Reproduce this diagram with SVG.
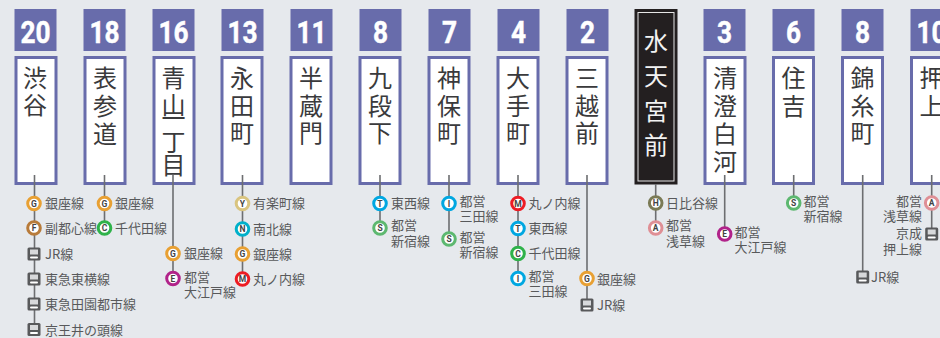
<svg xmlns="http://www.w3.org/2000/svg" width="940" height="338" viewBox="0 0 940 338">
<style>
.num{fill:#686cab}
.box{fill:#fff;stroke:#686cab;stroke-width:3}
.n{font:700 32px Roboto,"Liberation Sans",sans-serif;fill:#fff;stroke:#fff;stroke-width:.5;text-anchor:middle}
.st{font:400 24px "Noto Sans CJK JP",sans-serif;fill:#3a3a3c;text-anchor:middle}
.w{fill:#f2f2f2}
.l{font:400 13px "Noto Sans CJK JP",sans-serif;fill:#58595b}
.e{text-anchor:end}
.c{stroke:#6d6e71;stroke-width:1.6;fill:none}
circle{fill:#fff;stroke-width:3}
.b{font:700 8.5px Roboto,sans-serif;fill:#444;text-anchor:middle}
.G{stroke:#e8a033}.F{stroke:#b87b3a}.C{stroke:#2fb24a}.E{stroke:#b1238a}.Y{stroke:#d9c47f}.N{stroke:#00b0ca}.M{stroke:#ed1c24}.T{stroke:#00a7e1}.S{stroke:#5db870}.I{stroke:#00a7e1}.H{stroke:#7a7a55}.A{stroke:#df8f95}
</style>
<defs>
<g id="train"><rect x="-6.500" y="-6.500" width="13" height="13" rx="1.500" fill="#58595b"/><rect x="-4" y="-4.500" width="8" height="5" fill="#d8d9db"/><rect x="-4" y="2.500" width="8" height="2" rx="1" fill="#fff"/></g>
</defs>
<rect width="940" height="338" fill="#e6e9ed"/>

<g id="st-shibuya"><rect class="num" x="14.500" y="9" width="42" height="42"/><text class="n" transform="translate(35.500 43) scale(.82 1)">20</text><rect class="box" x="16" y="57.500" width="40" height="126"/><text class="st" x="35 35" y="87 114">渋谷</text></g>
<g id="st-omotesando"><rect class="num" x="83.500" y="9" width="42" height="42"/><text class="n" transform="translate(104.500 43) scale(.82 1)">18</text><rect class="box" x="85" y="57.500" width="40" height="126"/><text class="st" x="105 105 105" y="87 115 143">表参道</text></g>
<g id="st-aoyama"><rect class="num" x="152.500" y="9" width="42" height="42"/><text class="n" transform="translate(173.500 43) scale(.82 1)">16</text><rect class="box" x="154" y="57.500" width="40" height="126"/><text class="st" x="173.500 173.500 173.500 173.500 173.500" y="87 114 127 151 174">青山一丁目</text></g>
<g id="st-nagatacho"><rect class="num" x="221.500" y="9" width="42" height="42"/><text class="n" transform="translate(242.500 43) scale(.82 1)">13</text><rect class="box" x="222" y="57.500" width="40" height="126"/><text class="st" x="242 242 242" y="87 115 142">永田町</text></g>
<g id="st-hanzomon"><rect class="num" x="290.500" y="9" width="42" height="42"/><text class="n" transform="translate(311.500 43) scale(.82 1)">11</text><rect class="box" x="291" y="57.500" width="40" height="126"/><text class="st" x="311 311 311" y="87 115 142">半蔵門</text></g>
<g id="st-kudanshita"><rect class="num" x="359.500" y="9" width="42" height="42"/><text class="n" transform="translate(380.500 43) scale(.82 1)">8</text><rect class="box" x="360" y="57.500" width="40" height="126"/><text class="st" x="380 380 380" y="87 115 142">九段下</text></g>
<g id="st-jimbocho"><rect class="num" x="428.500" y="9" width="42" height="42"/><text class="n" transform="translate(449.500 43) scale(.82 1)">7</text><rect class="box" x="429" y="57.500" width="40" height="126"/><text class="st" x="449 449 449" y="87 115 142">神保町</text></g>
<g id="st-otemachi"><rect class="num" x="497.500" y="9" width="42" height="42"/><text class="n" transform="translate(518.500 43) scale(.82 1)">4</text><rect class="box" x="498" y="57.500" width="40" height="126"/><text class="st" x="518 518 518" y="87 115 142">大手町</text></g>
<g id="st-mitsukoshimae"><rect class="num" x="566.500" y="9" width="42" height="42"/><text class="n" transform="translate(587.500 43) scale(.82 1)">2</text><rect class="box" x="567" y="57.500" width="40" height="126"/><text class="st" x="587 587 587" y="87 115 142">三越前</text></g>
<g id="st-suitengumae"><rect x="634.500" y="9" width="43" height="175.500" fill="#231f20"/><rect x="638" y="12.500" width="36" height="168.500" fill="none" stroke="#e6e6e6" stroke-width="1"/><text class="st w" x="656 656 656 656" y="50 85 120 154">水天宮前</text></g>
<g id="st-kiyosumi"><rect class="num" x="703.500" y="9" width="42" height="42"/><text class="n" transform="translate(724.500 43) scale(.82 1)">3</text><rect class="box" x="705" y="57.500" width="40" height="126"/><text class="st" x="725 725 725 725" y="87 115 143 171">清澄白河</text></g>
<g id="st-sumiyoshi"><rect class="num" x="772.500" y="9" width="42" height="42"/><text class="n" transform="translate(793.500 43) scale(.82 1)">6</text><rect class="box" x="773.500" y="57.500" width="40" height="126"/><text class="st" x="793.500 793.500" y="87 115">住吉</text></g>
<g id="st-kinshicho"><rect class="num" x="841.500" y="9" width="42" height="42"/><text class="n" transform="translate(862.500 43) scale(.82 1)">8</text><rect class="box" x="842.500" y="57.500" width="40" height="126"/><text class="st" x="862.500 862.500 862.500" y="87 115 142">錦糸町</text></g>
<g id="st-oshiage"><rect class="num" x="910.500" y="9" width="42" height="42"/><text class="n" transform="translate(931.500 43) scale(.82 1)">10</text><rect class="box" x="911.500" y="57.500" width="40" height="126"/><text class="st" x="931.500 931.500" y="87 115">押上</text></g>

<g id="connectors">
<path class="c" d="M34.500 175V329M104.500 175V228M173 175V278M242.500 175V279M380 175V228M449 175V239M518 175V278M587 175V305M655.700 184V228M724.700 175V234M793.700 175V203M862.700 175V277M931.700 175V234"/>
</g>

<g id="tr-shibuya">
<circle class="G" cx="34" cy="203.500" r="6.300"/><text class="b" x="34" y="206.500">G</text><text class="l" x="45" y="208">銀座線</text>
<circle class="F" cx="34" cy="228" r="6.300"/><text class="b" x="34" y="231">F</text><text class="l" x="45" y="232.700">副都心線</text>
<use href="#train" x="34" y="254"/><text class="l" x="45" y="258.700">JR線</text>
<use href="#train" x="34" y="279"/><text class="l" x="45" y="284">東急東横線</text>
<use href="#train" x="34" y="304"/><text class="l" x="45" y="309">東急田園都市線</text>
<use href="#train" x="34" y="329.500"/><text class="l" x="45" y="334.500">京王井の頭線</text>
</g>
<g id="tr-omotesando">
<circle class="G" cx="104.500" cy="203.500" r="6.300"/><text class="b" x="104.500" y="206.500">G</text><text class="l" x="115" y="208">銀座線</text>
<circle class="C" cx="104.500" cy="228" r="6.300"/><text class="b" x="104.500" y="231">C</text><text class="l" x="115" y="232.700">千代田線</text>
</g>
<g id="tr-aoyama">
<circle class="G" cx="173" cy="253.500" r="6.300"/><text class="b" x="173" y="256.500">G</text><text class="l" x="184" y="258">銀座線</text>
<circle class="E" cx="173" cy="278.500" r="6.300"/><text class="b" x="173" y="281.500">E</text><text class="l" x="184" y="281.500">都営</text><text class="l" x="184" y="297">大江戸線</text>
</g>
<g id="tr-nagatacho">
<circle class="Y" cx="242.500" cy="203.500" r="6.300"/><text class="b" x="242.500" y="206.500">Y</text><text class="l" x="253" y="208">有楽町線</text>
<circle class="N" cx="242.500" cy="229" r="6.300"/><text class="b" x="242.500" y="232">N</text><text class="l" x="253" y="233.500">南北線</text>
<circle class="G" cx="242.500" cy="254" r="6.300"/><text class="b" x="242.500" y="257">G</text><text class="l" x="253" y="258.500">銀座線</text>
<circle class="M" cx="242.500" cy="279" r="6.300"/><text class="b" x="242.500" y="282">M</text><text class="l" x="253" y="284">丸ノ内線</text>
</g>
<g id="tr-kudanshita">
<circle class="T" cx="380" cy="203.500" r="6.300"/><text class="b" x="380" y="206.500">T</text><text class="l" x="391" y="208">東西線</text>
<circle class="S" cx="380" cy="228" r="6.300"/><text class="b" x="380" y="231">S</text><text class="l" x="391" y="230">都営</text><text class="l" x="391" y="245.500">新宿線</text>
</g>
<g id="tr-jimbocho">
<circle class="I" cx="449" cy="203.500" r="6.300"/><text class="b" x="449" y="206.500">I</text><text class="l" x="459.500" y="206">都営</text><text class="l" x="459.500" y="221">三田線</text>
<circle class="S" cx="449" cy="239" r="6.300"/><text class="b" x="449" y="242">S</text><text class="l" x="459.500" y="242">都営</text><text class="l" x="459.500" y="257">新宿線</text>
</g>
<g id="tr-otemachi">
<circle class="M" cx="518" cy="203.500" r="6.300"/><text class="b" x="518" y="206.500">M</text><text class="l" x="528.500" y="208">丸ノ内線</text>
<circle class="T" cx="518" cy="228.500" r="6.300"/><text class="b" x="518" y="231.500">T</text><text class="l" x="528.500" y="233">東西線</text>
<circle class="C" cx="518" cy="253.500" r="6.300"/><text class="b" x="518" y="256.500">C</text><text class="l" x="528.500" y="258">千代田線</text>
<circle class="I" cx="518" cy="278.500" r="6.300"/><text class="b" x="518" y="281.500">I</text><text class="l" x="528.500" y="281">都営</text><text class="l" x="528.500" y="296">三田線</text>
</g>
<g id="tr-mitsukoshimae">
<circle class="G" cx="587" cy="278.500" r="6.300"/><text class="b" x="587" y="281.500">G</text><text class="l" x="597" y="284">銀座線</text>
<use href="#train" x="587" y="305"/><text class="l" x="597" y="310">JR線</text>
</g>
<g id="tr-suitengumae">
<circle class="H" cx="655.700" cy="203" r="6.300"/><text class="b" x="655.700" y="206">H</text><text class="l" x="666" y="208">日比谷線</text>
<circle class="A" cx="655.700" cy="228" r="6.300"/><text class="b" x="655.700" y="231">A</text><text class="l" x="666" y="230">都営</text><text class="l" x="666" y="245.500">浅草線</text>
</g>
<g id="tr-kiyosumi">
<circle class="E" cx="724.700" cy="234" r="6.300"/><text class="b" x="724.700" y="237">E</text><text class="l" x="734.500" y="236.500">都営</text><text class="l" x="734.500" y="252">大江戸線</text>
</g>
<g id="tr-sumiyoshi">
<circle class="S" cx="793.700" cy="203" r="6.300"/><text class="b" x="793.700" y="206">S</text><text class="l" x="803.500" y="206">都営</text><text class="l" x="803.500" y="221">新宿線</text>
</g>
<g id="tr-kinshicho">
<use href="#train" x="862.700" y="277"/><text class="l" x="871" y="282">JR線</text>
</g>
<g id="tr-oshiage">
<circle class="A" cx="931.700" cy="203" r="6.300"/><text class="b" x="931.700" y="206">A</text><text class="l e" x="922" y="206">都営</text><text class="l e" x="922" y="221">浅草線</text>
<use href="#train" x="931.700" y="234"/><text class="l e" x="922" y="238">京成</text><text class="l e" x="922" y="253.500">押上線</text>
</g>
</svg>
